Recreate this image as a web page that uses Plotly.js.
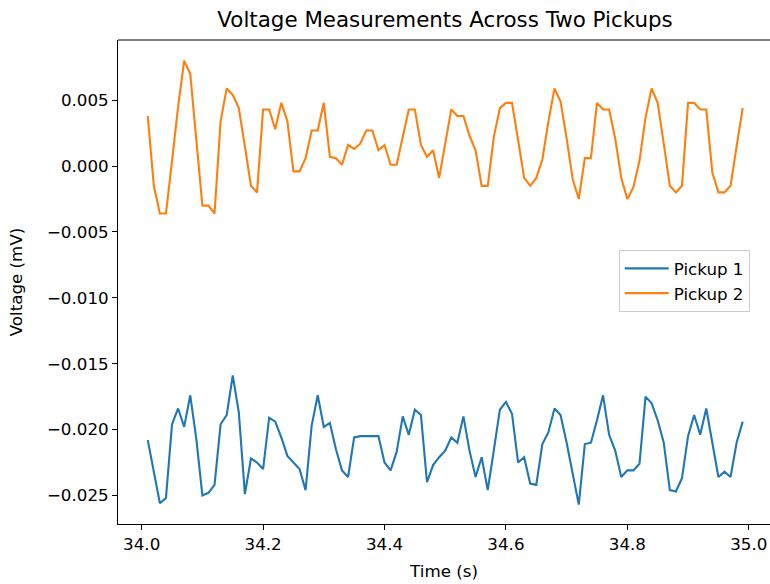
<!DOCTYPE html>
<html>
<head>
<meta charset="utf-8">
<script src="https://cdn.plot.ly/plotly-3.0.1.min.js"></script>
<style>html,body{margin:0;padding:0;background:#fff;}#chart{width:770px;height:584px;}</style>
</head>
<body>
<div id="chart"></div>
<script>
// Time samples (s): 34.01 ... 34.99
const timeStart = 34.01;
const timeStep = 0.01;
const pickup1 = [
 -0.0208, -0.0232, -0.0256, -0.0252, -0.0196, -0.0184, -0.0198, -0.0174, -0.0207, -0.0250,
 -0.0248, -0.0242, -0.0196, -0.0189, -0.0159, -0.0187, -0.0249, -0.0222, -0.0225, -0.0230,
 -0.0191, -0.0194, -0.0206, -0.0220, -0.0225, -0.0230, -0.0246, -0.0197, -0.0174, -0.0198,
 -0.0195, -0.0215, -0.0231, -0.0236, -0.0206, -0.0205, -0.0205, -0.0205, -0.0205, -0.0225,
 -0.0231, -0.0217, -0.0190, -0.0204, -0.0185, -0.0189, -0.0240, -0.0227, -0.0221, -0.0216,
 -0.0206, -0.0210, -0.0190, -0.0216, -0.0236, -0.0221, -0.0246, -0.0216, -0.0185, -0.0179,
 -0.0188, -0.0225, -0.0221, -0.0241, -0.0242, -0.0211, -0.0202, -0.0184, -0.0189, -0.0210,
 -0.0234, -0.0257, -0.0211, -0.0210, -0.0193, -0.0174, -0.0204, -0.0216, -0.0236, -0.0231,
 -0.0231, -0.0226, -0.0175, -0.0180, -0.0193, -0.0210, -0.0246, -0.0247, -0.0237, -0.0205,
 -0.0189, -0.0204, -0.0184, -0.0211, -0.0236, -0.0232, -0.0236, -0.0210, -0.0194
];
const pickup2 = [
  0.0038, -0.0015, -0.0036, -0.0036, 0.0004, 0.0045, 0.0080, 0.0070, 0.0020, -0.0030,
 -0.0030, -0.0036, 0.0034, 0.0059, 0.0054, 0.0044, 0.0015, -0.0015, -0.0020, 0.0043,
  0.0043, 0.0028, 0.0048, 0.0034, -0.0004, -0.0004, 0.0006, 0.0027, 0.0027, 0.0048,
  0.0007, 0.0006, 0.0001, 0.0016, 0.0013, 0.0017, 0.0027, 0.0027, 0.0012, 0.0016,
  0.0001, 0.0001, 0.0022, 0.0043, 0.0043, 0.0016, 0.0007, 0.0012, -0.0009, 0.0017,
  0.0043, 0.0038, 0.0038, 0.0023, 0.0012, -0.0015, -0.0015, 0.0022, 0.0044, 0.0048,
  0.0048, 0.0020, -0.0009, -0.0015, -0.0009, 0.0005, 0.0034, 0.0059, 0.0049, 0.0021,
 -0.0010, -0.0025, 0.0006, 0.0006, 0.0048, 0.0043, 0.0043, 0.0021, -0.0009, -0.0025,
 -0.0016, 0.0004, 0.0037, 0.0059, 0.0048, 0.0017, -0.0015, -0.0020, -0.0015, 0.0048,
  0.0048, 0.0043, 0.0043, -0.0005, -0.0020, -0.0020, -0.0015, 0.0015, 0.0044
];
const seriesNames = ["Pickup 1", "Pickup 2"];
const xTickVals = [34.0, 34.2, 34.4, 34.6, 34.8, 35.0];
const xTickText = ["34.0", "34.2", "34.4", "34.6", "34.8", "35.0"];
const yTickVals = [-0.025, -0.020, -0.015, -0.010, -0.005, 0.000, 0.005];
const yTickText = ["\u22120.025", "\u22120.020", "\u22120.015", "\u22120.010", "\u22120.005", "0.000", "0.005"];

const times = pickup1.map((_, i) => +(timeStart + i * timeStep).toFixed(2));
const font = "DejaVu Sans, sans-serif";
const fs = 16.7;

const traces = [
  {x: times, y: pickup1, type: "scatter", mode: "lines", name: seriesNames[0],
   line: {color: "#1f77b4", width: 2.1}},
  {x: times, y: pickup2, type: "scatter", mode: "lines", name: seriesNames[1],
   line: {color: "#ff7f0e", width: 2.1}}
];

const layout = {
  width: 770, height: 584,
  margin: {l: 118, r: 0, t: 40, b: 60, pad: 0},
  paper_bgcolor: "#fff", plot_bgcolor: "#fff",
  font: {family: font, size: fs, color: "#000"},
  showlegend: true,
  title: {text: "Voltage Measurements Across Two Pickups", font: {family: font, size: 21.4, color: "#000"},
          x: 0.578, xanchor: "center", xref: "container", y: 0.967, yanchor: "middle", yref: "container"},
  xaxis: {
    range: [33.961, 35.035], tickvals: xTickVals, ticktext: xTickText,
    showgrid: false, zeroline: false, showline: true, linecolor: "#000", linewidth: 1,
    ticks: "outside", ticklen: 5, tickwidth: 1, tickcolor: "#000",
    tickfont: {family: font, size: fs, color: "#000"},
    title: {text: "Time (s)", font: {family: font, size: fs, color: "#000"}, standoff: 12}
  },
  yaxis: {
    range: [-0.02717, 0.00957], tickvals: yTickVals, ticktext: yTickText,
    showgrid: false, zeroline: false, showline: true, linecolor: "#000", linewidth: 1,
    ticks: "outside", ticklen: 5, tickwidth: 1, tickcolor: "#000",
    tickfont: {family: font, size: fs, color: "#000"},
    title: {text: "Voltage (mV)", font: {family: font, size: fs, color: "#000"}, standoff: 20}
  },
  legend: {x: 0.768, y: 0.566, xanchor: "left", yanchor: "top",
           itemwidth: 44, entrywidth: 150, tracegroupgap: 2,
           bgcolor: "rgba(255,255,255,0.8)", bordercolor: "#ccc", borderwidth: 1,
           font: {family: font, size: fs, color: "#000"}},
  shapes: [
    {type: "line", xref: "paper", yref: "paper", x0: 0, x1: 1, y0: 1, y1: 1,
     line: {color: "#000", width: 1}}
  ]
};

Plotly.newPlot("chart", traces, layout, {displayModeBar: false, staticPlot: true});
</script>
</body>
</html>
